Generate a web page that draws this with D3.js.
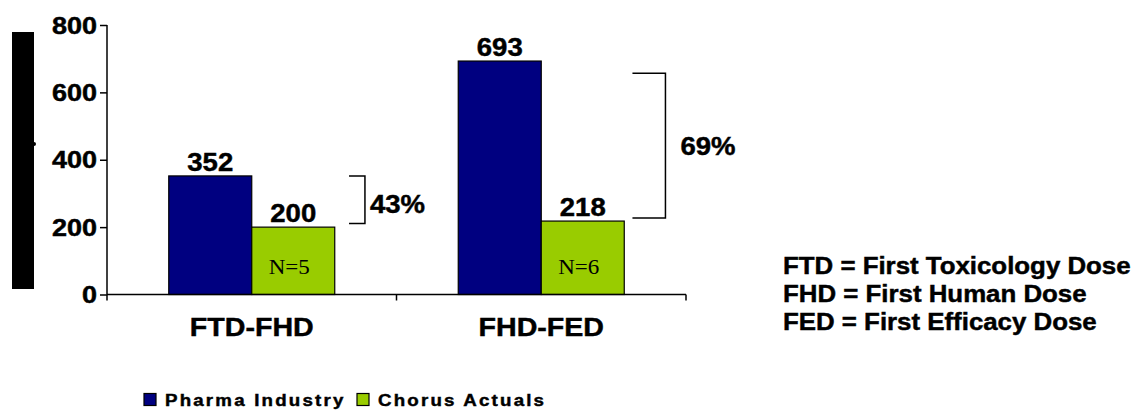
<!DOCTYPE html>
<html><head><meta charset="utf-8">
<script src="https://cdn.jsdelivr.net/npm/d3@7"></script>
<style>
html,body{margin:0;padding:0;background:#fff;}
svg{display:block;}
text{font-family:"Liberation Sans",Arial,sans-serif;font-weight:bold;fill:#000;stroke:#000;stroke-width:0.45px;paint-order:stroke;}
text.serif{stroke:none;}
</style></head>
<body>
<svg id="chart" width="1145" height="410"></svg>
<script>
const categories = ["FTD-FHD", "FHD-FED"];
const seriesNames = ["Pharma Industry", "Chorus Actuals"];
const pharmaIndustry = [352, 693];
const chorusActuals = [200, 218];
const sampleSizes = ["N=5", "N=6"];
const yTicks = [0, 200, 400, 600, 800];
const bracketTop = [352, 657];
const bracketBottom = [211, 227];
const reductionLabels = ["43%", "69%"];
const footnotes = ["FTD = First Toxicology Dose", "FHD = First Human Dose", "FED = First Efficacy Dose"];
const colors = ["#000080", "#99CC00"];

const svg = d3.select("#chart");
const SX = 1.1;
function txt(g, x, y, s, size, anchor, extra, sx) {
  const t = g.append("text")
    .attr("transform", `translate(${x},${y}) scale(${sx || SX},1)`)
    .attr("text-anchor", anchor || "start")
    .style("font-size", size + "px")
    .text(s);
  if (extra) extra(t);
  return t;
}

const x0 = d3.scaleBand().domain(categories).range([107, 686]).padding(0);
const x1 = d3.scaleBand().domain(seriesNames).range([0, x0.bandwidth()]).paddingInner(0).paddingOuter(0.744);
const y = d3.scaleLinear().domain([0, 800]).range([294.5, 25]);

// black box on the left (obscured axis title)
svg.append("rect").attr("x", 12).attr("y", 32).attr("width", 22).attr("height", 257).attr("fill", "#000");
svg.append("circle").attr("cx", 34).attr("cy", 144).attr("r", 2).attr("fill", "#000");

// bars
const data = categories.map((c, i) => ({cat: c, vals: [pharmaIndustry[i], chorusActuals[i]], n: sampleSizes[i]}));
const groups = svg.selectAll("g.grp").data(data).join("g").attr("class", "grp")
  .attr("transform", d => `translate(${x0(d.cat)},0)`);
groups.selectAll("rect").data(d => d.vals.map((v, j) => ({v, s: seriesNames[j], j})))
  .join("rect")
  .attr("x", d => x1(d.s)).attr("width", x1.bandwidth())
  .attr("y", d => y(d.v)).attr("height", d => y(0) - y(d.v))
  .attr("fill", d => colors[d.j]).attr("stroke", "#000").attr("stroke-width", 1.2);
groups.each(function(d) {
  const g = d3.select(this);
  d.vals.forEach((v, j) => {
    txt(g, x1(seriesNames[j]) + x1.bandwidth() / 2, y(v) - 5, String(v), 25, "middle");
  });
  txt(g, x1(seriesNames[1]) + x1.bandwidth() / 2 - 4, 274, d.n, 20, "middle", t =>
    t.attr("class", "serif").style("font-family", "'Liberation Serif','Times New Roman',serif").style("font-weight", "normal"), 1.15);
});

// axes
const yAxis = svg.append("g").attr("transform", "translate(107,0)")
  .call(d3.axisLeft(y).tickValues(yTicks).tickSize(7).tickPadding(3));
yAxis.select(".domain").attr("stroke", "#000").attr("stroke-width", 1.5).attr("d", `M0,${y(800)}V${y(0)}`);
yAxis.selectAll(".tick line").attr("stroke", "#000").attr("stroke-width", 1.5);
yAxis.selectAll(".tick text").remove();
yTicks.forEach(t => txt(svg, 97, y(t) + 8.5, String(t), 23.5, "end", null, 1.15));

const xBounds = [x0.range()[0], ...categories.map(c => x0(c) + x0.bandwidth())];
const xAxis = svg.append("g");
xAxis.append("line").attr("x1", xBounds[0]).attr("x2", xBounds[xBounds.length - 1])
  .attr("y1", y(0)).attr("y2", y(0)).attr("stroke", "#000").attr("stroke-width", 1.5);
xBounds.forEach(b => xAxis.append("line").attr("x1", b).attr("x2", b).attr("y1", y(0)).attr("y2", y(0) + 6)
  .attr("stroke", "#000").attr("stroke-width", 1.5));
categories.forEach(c => txt(svg, x0(c) + x0.bandwidth() / 2, 336, c, 26, "middle"));

// brackets
const bracketX = [[0.836, 0.891], [0.815, 0.929]];
categories.forEach((c, i) => {
  const xa = x0(c) + x0.bandwidth() * bracketX[i][0];
  const xb = x0(c) + x0.bandwidth() * bracketX[i][1];
  const yt = y(bracketTop[i]), yb = y(bracketBottom[i]);
  svg.append("path").attr("d", `M${xa},${yt}H${xb}V${yb}H${xa}`)
    .attr("fill", "none").attr("stroke", "#000").attr("stroke-width", 1.5);
  const ly = i === 0 ? yb - 10 : (yt + yb) / 2 + 9;
  txt(svg, xb + 5 + (i === 1 ? 10 : 0), ly, reductionLabels[i], 25, "start");
});

// footnotes
footnotes.forEach((f, i) => txt(svg, 783, 274 + i * 28, f, 23.5, "start"));

// legend
const legendX = [144, 357];
seriesNames.forEach((s, i) => {
  svg.append("rect").attr("x", legendX[i]).attr("y", 393.5).attr("width", 12).attr("height", 12)
    .attr("fill", colors[i]).attr("stroke", "#000").attr("stroke-width", 1.2);
  txt(svg, legendX[i] + 21, 405.5, s, 17, "start", t => t.style("letter-spacing", "2px"));
});
</script>
</body></html>
